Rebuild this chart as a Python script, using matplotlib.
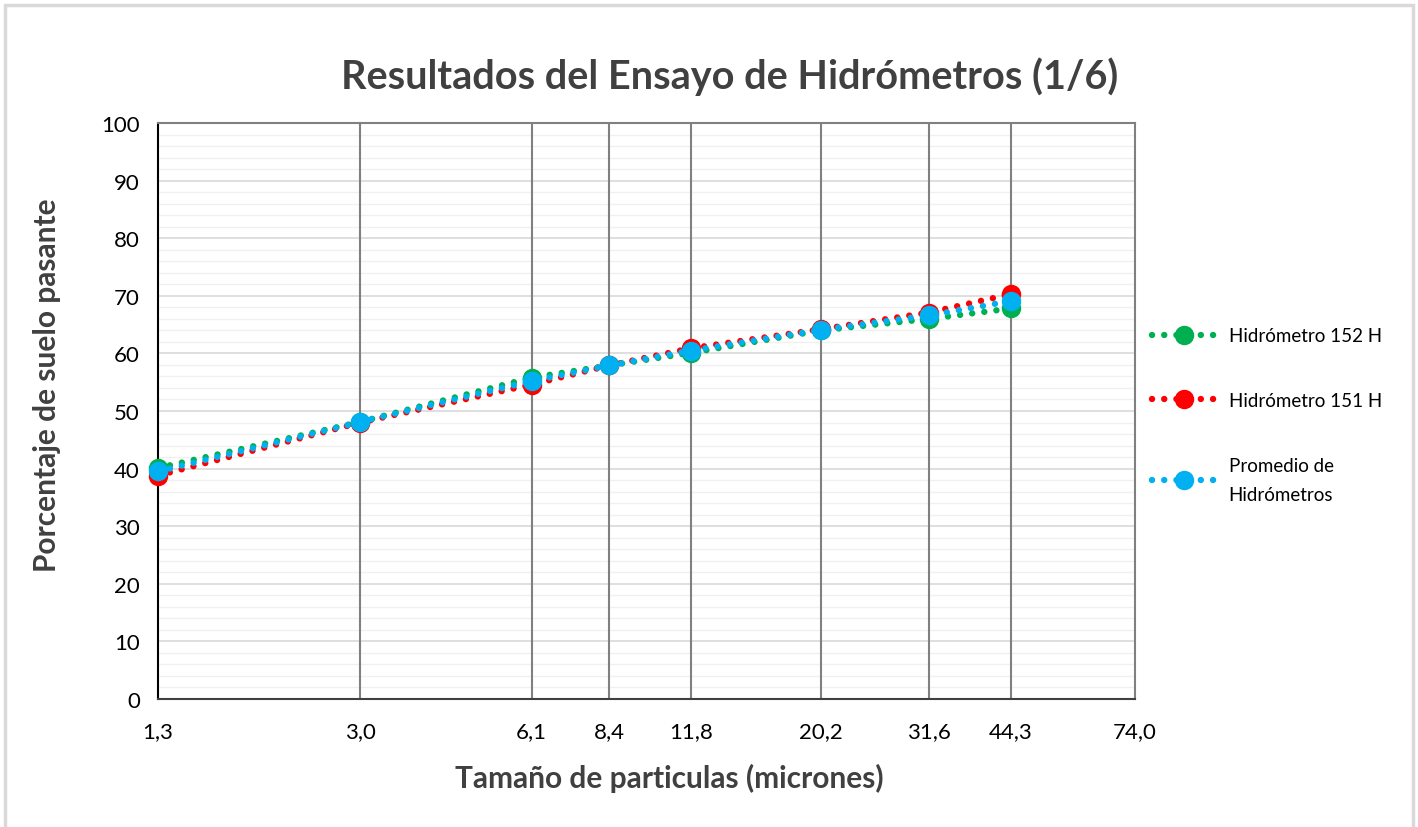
import numpy as np
import matplotlib
matplotlib.use("Agg")
import matplotlib.pyplot as plt
from matplotlib.ticker import FixedLocator, NullFormatter, MultipleLocator
from matplotlib.patches import Rectangle

# particle size (microns) and % passing
sizes = [1.3, 3.0, 6.1, 8.4, 11.8, 20.2, 31.6, 44.3]
tick_sizes = [1.3, 3.0, 6.1, 8.4, 11.8, 20.2, 31.6, 44.3, 74.0]
tick_labels = ["1,3", "3,0", "6,1", "8,4", "11,8", "20,2", "31,6", "44,3", "74,0"]

hidro_152 = [40.1, 48.1, 55.8, 57.9, 60.1, 64.0, 66.0, 67.8]
hidro_151 = [38.8, 48.0, 54.6, 57.9, 60.9, 64.2, 67.1, 70.3]
promedio = [39.5, 48.1, 55.2, 57.9, 60.5, 64.1, 66.6, 69.1]

plt.rcParams["font.family"] = ["Lato", "DejaVu Sans"]

fig = plt.figure(figsize=(14.18, 8.28), dpi=100)
fig.patches.append(Rectangle((5 / 1418, -0.05), 1408 / 1418, 1.05 - 6 / 828,
                             transform=fig.transFigure, fill=False,
                             edgecolor="#d9d9d9", linewidth=2.5))

ax = fig.add_axes([158 / 1418, 1 - 700 / 828, (1135 - 158) / 1418, (700 - 124) / 828])
ax.set_xscale("log")
ax.set_xlim(1.3, 74.0)
ax.set_ylim(0, 100)

series = [
    (hidro_152, "#00b050", "Hidrómetro 152 H"),
    (hidro_151, "#ff0000", "Hidrómetro 151 H"),
    (promedio, "#00b0f0", "Promedio de\nHidrómetros"),
]
for vals, col, lab in series:
    ax.plot(sizes, vals, color=col, linewidth=4.6,
            linestyle=(0, (0.01, 1.9)), dash_capstyle="round",
            marker="o", markersize=14, markeredgewidth=0,
            label=lab, clip_on=False, zorder=3)

ax.xaxis.set_major_locator(FixedLocator(tick_sizes))
ax.xaxis.set_minor_locator(FixedLocator([]))
ax.xaxis.set_minor_formatter(NullFormatter())
ax.set_xticklabels(tick_labels)
ax.yaxis.set_major_locator(MultipleLocator(10))
ax.yaxis.set_minor_locator(MultipleLocator(2))

ax.grid(True, which="major", axis="y", color="#d9d9d9", linewidth=1.2)
ax.grid(True, which="minor", axis="y", color="#f0f0f0", linewidth=1.0)
ax.set_axisbelow(True)
# vertical grid drawn above the horizontal one
for xv in tick_sizes[1:-1]:
    ax.axvline(xv, color="#808080", linewidth=1.5, zorder=1.5)

ax.tick_params(axis="both", which="both", length=0, labelsize=16, colors="#000000")
ax.tick_params(axis="x", pad=16)
ax.tick_params(axis="y", pad=13)

ax.spines["left"].set_color("#000000")
ax.spines["left"].set_linewidth(1.5)
ax.spines["bottom"].set_color("#404040")
ax.spines["bottom"].set_linewidth(1.5)
ax.spines["top"].set_color("#808080")
ax.spines["top"].set_linewidth(1.5)
ax.spines["right"].set_color("#808080")
ax.spines["right"].set_linewidth(1.5)

fig.text(730 / 1418, 1 - 77 / 828, "Resultados del Ensayo de Hidrómetros (1/6)",
         ha="center", va="center", fontsize=28.5, fontweight="bold", color="#404040")
fig.text(669 / 1418, 1 - 778 / 828, "Tamaño de particulas (micrones)",
         ha="center", va="center", fontsize=21.5, fontweight="bold", color="#404040")
fig.text(47 / 1418, 1 - 385 / 828, "Porcentaje de suelo pasante", rotation=90,
         ha="center", va="center", fontsize=21.5, fontweight="bold", color="#404040")

leg = ax.legend(loc="upper left", bbox_to_anchor=(1.0, 0.675), frameon=False,
                fontsize=13.5, handlelength=3.45, labelspacing=2.55, handletextpad=0.65,
                numpoints=1, markerscale=1.0)
for t in leg.get_texts():
    t.set_linespacing(1.9)

fig.savefig("out.png", dpi=100)
